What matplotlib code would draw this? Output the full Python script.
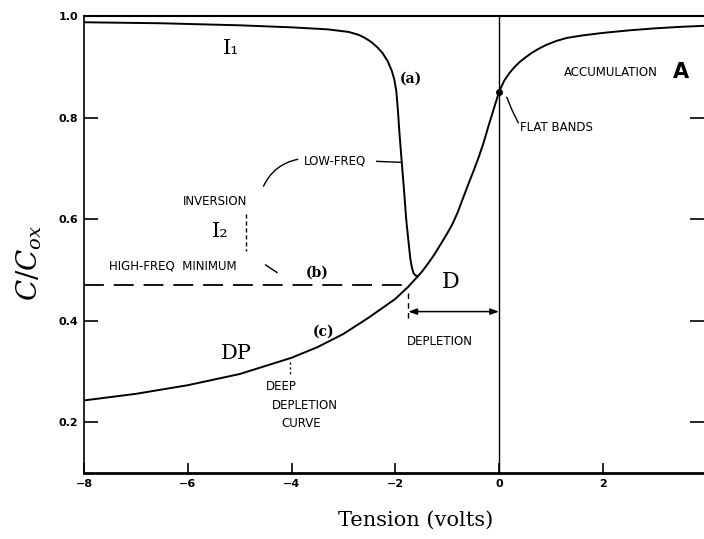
import matplotlib.pyplot as plt

plt.rcParams['mathtext.fontset'] = 'dejavuserif'

# data
# low-frequency curve (a)
lf_v = [-8, -6.5, -5, -4, -3.3, -2.9, -2.7, -2.6, -2.52, -2.45, -2.35, -2.25, -2.15,
        -2.07, -2.02, -1.98, -1.95, -1.92, -1.88, -1.83, -1.79, -1.75, -1.71, -1.68,
        -1.65, -1.61, -1.56]
lf_c = [0.988, 0.986, 0.982, 0.978, 0.974, 0.969, 0.963, 0.958, 0.953, 0.948, 0.939,
        0.928, 0.912, 0.893, 0.876, 0.852, 0.815, 0.77, 0.718, 0.655, 0.60, 0.56,
        0.522, 0.505, 0.494, 0.489, 0.488]

# deep depletion (c) + accumulation curve
hf_v = [-8, -7, -6, -5, -4, -3.5, -3, -2.5, -2, -1.75, -1.5, -1.38, -1.25, -1.1, -1.0,
        -0.9, -0.8, -0.7, -0.6, -0.5, -0.4, -0.3, -0.2, -0.1, 0, 0.1, 0.2, 0.3, 0.4,
        0.5, 0.62, 0.75, 0.9, 1.1, 1.3, 1.6, 2.0, 2.5, 3.0, 3.5, 3.95]
hf_c = [0.243, 0.256, 0.273, 0.295, 0.327, 0.348, 0.374, 0.407, 0.443, 0.467, 0.495,
        0.511, 0.53, 0.555, 0.572, 0.59, 0.613, 0.64, 0.667, 0.693, 0.72, 0.75, 0.785,
        0.818, 0.851, 0.873, 0.888, 0.90, 0.91, 0.918, 0.927, 0.935, 0.943, 0.951,
        0.957, 0.962, 0.967, 0.972, 0.976, 0.979, 0.981]

# high-freq minimum (b), dashed
hfmin_v = [-8, -1.72]
hfmin_c = [0.471, 0.471]

flat_band = (0, 0.851)
x_ticks = [-8, -6, -4, -2, 0, 2]
y_ticks = [0.2, 0.4, 0.6, 0.8, 1.0]

fig = plt.figure(figsize=(7.04, 5.39), dpi=100)
ax = fig.add_axes([0.1193, 0.1224, 0.8807, 0.8476])

ax.plot(lf_v, lf_c, color='black', lw=1.4)
ax.plot(hf_v, hf_c, color='black', lw=1.4)
ax.plot(hfmin_v, hfmin_c, color='black', lw=1.3, dashes=(11, 5.5))
ax.plot(*flat_band, 'o', color='black', ms=4)

ax.axvline(0, color='black', lw=1.0)
ax.plot([-1.75, -1.75], [0.455, 0.40], color='black', lw=1.0, dashes=(4, 3))
ax.annotate('', xy=(-1.75, 0.418), xytext=(0, 0.418),
            arrowprops=dict(arrowstyle='<|-|>,head_length=0.5,head_width=0.18',
                            color='black', lw=1.1, shrinkA=0, shrinkB=0))

ax.set_xlim(-8, 3.95)
ax.set_ylim(0.1, 1.0)
ax.set_xticks(x_ticks)
ax.set_xticklabels(['\u22128', '\u22126', '\u22124', '\u22122', '0', '2'])
ax.set_yticks(y_ticks)
ax.set_yticklabels(['0.2', '0.4', '0.6', '0.8', '1.0'])
ax.tick_params(axis='both', labelsize=8, direction='in', pad=4, width=1.2)
ax.tick_params(axis='y', length=10, right=True)
ax.tick_params(axis='x', length=7)
for lab in ax.get_xticklabels() + ax.get_yticklabels():
    lab.set_fontweight('bold')

ax.spines['right'].set_visible(False)
ax.spines['left'].set_linewidth(1.2)
ax.spines['bottom'].set_linewidth(2.0)
ax.spines['top'].set_linewidth(1.5)

ax.set_xlabel('Tension (volts)', family='DejaVu Serif', fontsize=15)
ax.set_ylabel(r'$C/C_{ox}$', fontsize=20)
ax.xaxis.set_label_coords(0.535, -0.083)
ax.yaxis.set_label_coords(-0.064, 0.46)

# labels on the plot
small = dict(fontsize=8.5, family='DejaVu Sans', color='black')
big = dict(family='DejaVu Serif', color='black')

ax.text(-5.17, 0.937, 'I\u2081', fontsize=15, ha='center', va='center', **big)
ax.text(-5.37, 0.575, 'I\u2082', fontsize=15, ha='center', va='center', **big)
ax.text(-5.06, 0.335, 'DP', fontsize=15, ha='center', va='center', **big)
ax.text(-0.94, 0.476, 'D', fontsize=16, ha='center', va='center', **big)
ax.text(3.5, 0.89, 'A', fontsize=15, fontweight='bold', ha='center', va='center',
        family='DejaVu Sans')

ax.text(-1.69, 0.877, '(a)', fontsize=10, fontweight='bold', ha='center', va='center', **big)
ax.text(-3.5, 0.495, '(b)', fontsize=10, fontweight='bold', ha='center', va='center', **big)
ax.text(-3.39, 0.378, '(c)', fontsize=10, fontweight='bold', ha='center', va='center', **big)

ax.text(-3.17, 0.714, 'LOW-FREQ', ha='center', va='center', **small)
ax.plot([-2.36, -1.88], [0.714, 0.712], color='black', lw=1.0)
ax.annotate('', xy=(-3.88, 0.718), xytext=(-4.54, 0.665),
            arrowprops=dict(arrowstyle='-', color='black', lw=1.0,
                            connectionstyle='arc3,rad=-0.25', shrinkA=0, shrinkB=0))
ax.text(-5.48, 0.635, 'INVERSION', ha='center', va='center', **small)
ax.plot([-4.88, -4.88], [0.61, 0.537], color='black', lw=1.0, dashes=(3, 2))
ax.text(-7.52, 0.508, 'HIGH-FREQ  MINIMUM', ha='left', va='center', **small)
ax.plot([-4.5, -4.28], [0.51, 0.495], color='black', lw=1.0)

ax.text(-4.5, 0.27, 'DEEP', ha='left', va='center', **small)
ax.text(-4.38, 0.234, 'DEPLETION', ha='left', va='center', **small)
ax.text(-4.19, 0.198, 'CURVE', ha='left', va='center', **small)
ax.plot([-4.02, -4.02], [0.318, 0.296], color='black', lw=1.0, dashes=(1.5, 2))

ax.text(-1.15, 0.359, 'DEPLETION', ha='center', va='center', **small)
ax.text(2.15, 0.89, 'ACCUMULATION', ha='center', va='center', **small)
ax.text(0.4, 0.78, 'FLAT BANDS', ha='left', va='center', **small)
ax.plot([0.15, 0.25, 0.37], [0.84, 0.815, 0.79], color='black', lw=1.0)

fig.savefig('out.png', dpi=100)
